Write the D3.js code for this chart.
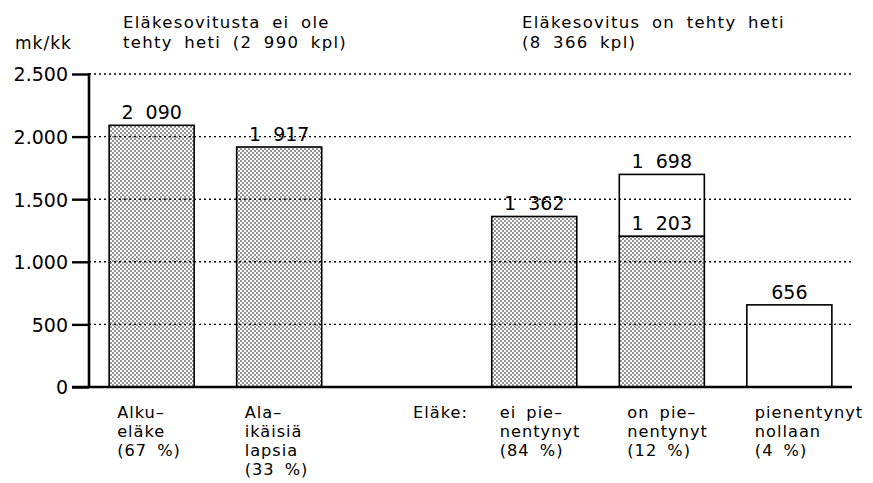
<!DOCTYPE html>
<html>
<head>
<meta charset="utf-8">
<script src="https://cdn.jsdelivr.net/npm/d3@7"></script>
<style>
  body { margin: 0; background: #fff; }
  svg text { font-family: "DejaVu Sans", sans-serif; fill: #000; }
</style>
</head>
<body>
<svg id="chart" width="873" height="483"></svg>
<script>
(function() {
    var width = 873, height = 483

    // data
    const slots = ["alku", "alaikaiset", "", "ei", "on", "nolla"];
    const categories = ["alku", "alaikaiset", "ei", "on", "nolla"];
    const shadedValues = [2090, 1917, 1362, 1203, 0];
    const totalValues = [2090, 1917, 1362, 1698, 656];
    const categoryLabels = [
        ["Alku–", "eläke", "(67 %)"],
        ["Ala–", "ikäisiä", "lapsia", "(33 %)"],
        ["ei pie–", "nentynyt", "(84 %)"],
        ["on pie–", "nentynyt", "(12 %)"],
        ["pienentynyt", "nollaan", "(4 %)"]
    ];
    const yTicks = [0, 500, 1000, 1500, 2000, 2500];
    const leftTitle = ["Eläkesovitusta ei ole", "tehty heti (2 990 kpl)"];
    const rightTitle = ["Eläkesovitus on tehty heti", "(8 366 kpl)"];
    const unitLabel = "mk/kk";
    const prefixLabel = "Eläke:";

    const svg = d3.select("#chart");

    // dotted raster fill like the original print
    const defs = svg.append("defs");
    const pat = defs.append("pattern")
        .attr("id", "dots")
        .attr("patternUnits", "userSpaceOnUse")
        .attr("width", 4).attr("height", 4);
    pat.append("rect").attr("width", 4).attr("height", 4).attr("fill", "#fff");
    pat.append("circle").attr("cx", 1).attr("cy", 1).attr("r", 0.8).attr("fill", "#111");
    pat.append("circle").attr("cx", 3).attr("cy", 3).attr("r", 0.8).attr("fill", "#111");

    let x = d3.scaleBand()
        .domain(slots)
        .range([90, 851])
        .paddingInner(1 / 3)
        .paddingOuter(0.15);

    let y = d3.scaleLinear()
        .domain([0, 2500])
        .range([387, 74]);

    const fiLocale = d3.formatLocale({ decimal: ",", thousands: ".", grouping: [3], currency: ["", ""] });
    const valueLocale = d3.formatLocale({ decimal: ",", thousands: "\u2007", grouping: [3], currency: ["", ""] });
    const tickFmt = fiLocale.format(",");
    const valueFmt = valueLocale.format(",");

    const bars = categories.map((c, i) => ({
        key: c, shaded: shadedValues[i], total: totalValues[i], lines: categoryLabels[i]
    }));

    // white (unshaded) part
    svg.append("g")
        .selectAll("rect")
        .data(bars.filter(d => d.total > d.shaded))
        .join("rect")
        .attr("x", d => x(d.key))
        .attr("y", d => y(d.total))
        .attr("width", x.bandwidth())
        .attr("height", d => y(d.shaded) - y(d.total))
        .attr("fill", "#fff")
        .attr("stroke", "#000")
        .attr("stroke-width", 1.6);

    // shaded part
    svg.append("g")
        .selectAll("rect")
        .data(bars.filter(d => d.shaded > 0))
        .join("rect")
        .attr("x", d => x(d.key))
        .attr("y", d => y(d.shaded))
        .attr("width", x.bandwidth())
        .attr("height", d => y(0) - y(d.shaded))
        .attr("fill", "url(#dots)")
        .attr("stroke", "#000")
        .attr("stroke-width", 1.6);

    // dotted grid lines, drawn over the bars
    svg.append("g")
        .selectAll("line")
        .data(yTicks.filter(t => t > 0))
        .join("line")
        .attr("x1", 89).attr("x2", 853)
        .attr("y1", d => y(d)).attr("y2", d => y(d))
        .attr("stroke", "#000")
        .attr("stroke-width", 1.4)
        .attr("stroke-dasharray", "2,3");

    // y axis
    const yAxis = svg.append("g")
        .attr("transform", "translate(89,0)")
        .call(d3.axisLeft(y).tickValues(yTicks).tickSize(17).tickPadding(4).tickFormat(tickFmt));
    yAxis.select(".domain").remove();
    yAxis.selectAll(".tick line").attr("stroke", "#000").attr("stroke-width", 2.4);
    yAxis.selectAll(".tick text")
        .attr("font-size", 19)
        .attr("font-family", "DejaVu Sans, sans-serif")
        .attr("dy", "0.36em");
    svg.append("line")
        .attr("x1", 89).attr("x2", 89)
        .attr("y1", y(2500) - 1).attr("y2", y(0))
        .attr("stroke", "#000").attr("stroke-width", 2.6);

    // base line
    svg.append("line")
        .attr("x1", 72).attr("x2", 852)
        .attr("y1", y(0)).attr("y2", y(0))
        .attr("stroke", "#000").attr("stroke-width", 2.6);

    // value labels
    svg.append("g")
        .selectAll("text")
        .data(bars)
        .join("text")
        .attr("x", d => x(d.key) + x.bandwidth() / 2)
        .attr("y", d => y(d.total) - 6)
        .attr("text-anchor", "middle")
        .attr("font-size", 19)
        .text(d => valueFmt(d.total));

    svg.append("g")
        .selectAll("text")
        .data(bars.filter(d => d.shaded > 0 && d.shaded < d.total))
        .join("text")
        .attr("x", d => x(d.key) + x.bandwidth() / 2)
        .attr("y", d => y(d.shaded) - 6)
        .attr("text-anchor", "middle")
        .attr("font-size", 19)
        .text(d => valueFmt(d.shaded));

    // category labels under the bars
    const catText = svg.append("g")
        .selectAll("text")
        .data(bars)
        .join("text")
        .attr("x", d => x(d.key) + 8)
        .attr("y", 418)
        .attr("font-size", 16.2)
        .attr("letter-spacing", 1)
        .attr("word-spacing", 4);
    catText.selectAll("tspan")
        .data(d => d.lines.map(l => ({ line: l, x: x(d.key) + 8 })))
        .join("tspan")
        .attr("x", d => d.x)
        .attr("dy", (d, i) => i === 0 ? 0 : 19)
        .text(d => d.line);

    svg.append("text")
        .attr("x", 413).attr("y", 418)
        .attr("font-size", 16.2)
        .attr("letter-spacing", 1)
        .text(prefixLabel);

    // titles
    svg.append("text")
        .attr("x", 15).attr("y", 49)
        .attr("font-size", 17)
        .attr("letter-spacing", 1)
        .text(unitLabel);

    function title(lines, x0) {
        svg.append("text")
            .attr("font-size", 16.5)
            .attr("letter-spacing", 1.3)
            .attr("word-spacing", 5)
            .selectAll("tspan")
            .data(lines)
            .join("tspan")
            .attr("x", x0)
            .attr("y", (d, i) => 28 + i * 19.5)
            .text(d => d);
    }
    title(leftTitle, 123);
    title(rightTitle, 522);
})()
</script>
</body>
</html>
